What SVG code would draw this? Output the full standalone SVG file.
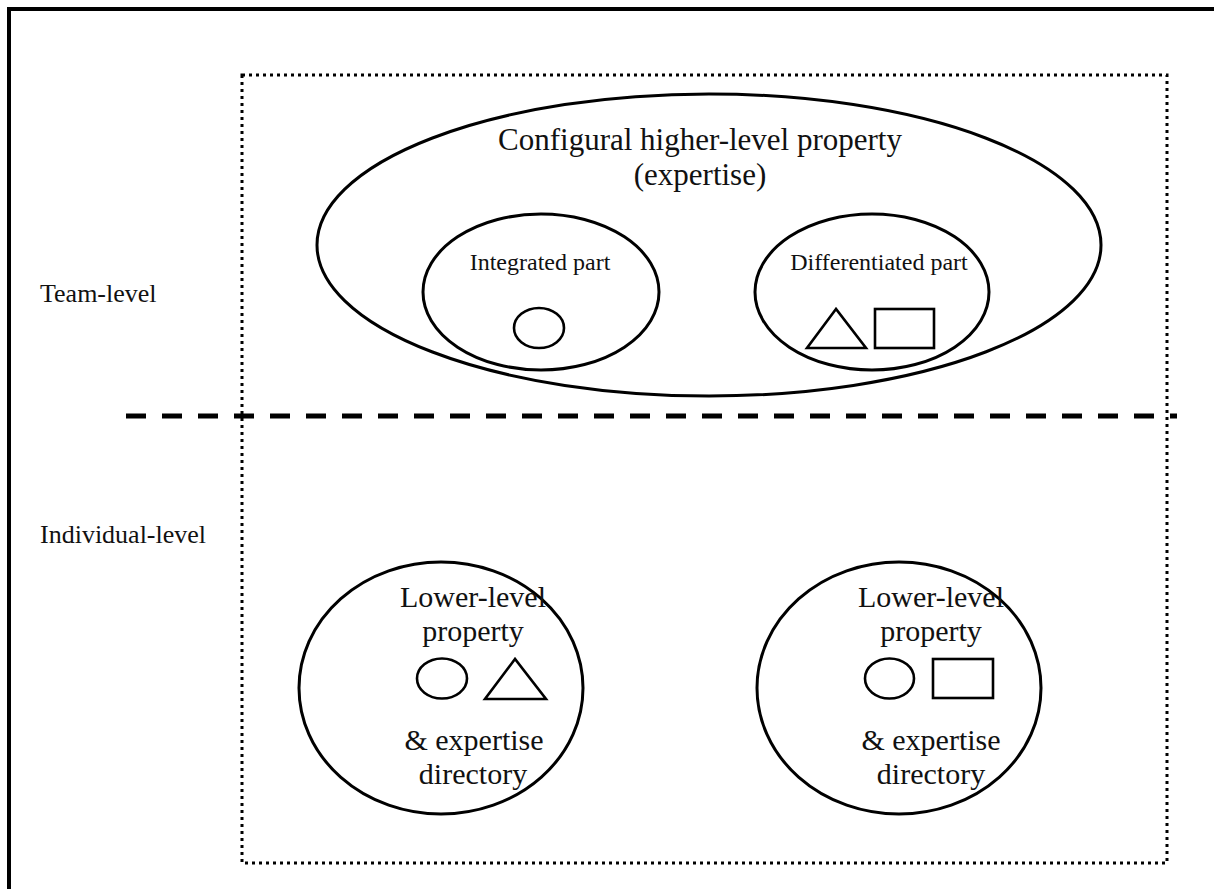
<svg xmlns="http://www.w3.org/2000/svg" width="1214" height="889" viewBox="0 0 1214 889">
  <style>
    .shape { fill: none; stroke: #000; stroke-width: 3; }
    .thin { fill: none; stroke: #000; stroke-width: 2.6; }
    .t { font-family: "Liberation Serif", "Times New Roman", serif; fill: #111; text-anchor: middle; }
    .lbl { font-family: "Liberation Serif", "Times New Roman", serif; fill: #111; }
  </style>
  <rect width="1214" height="889" fill="#fff"/>

  <!-- outer frame (right and bottom edges run off the canvas) -->
  <rect id="frame" x="9" y="9" width="1230" height="910" fill="none" stroke="#000" stroke-width="4"/>

  <!-- dotted boundary of the team -->
  <rect id="team-boundary" x="242" y="75" width="925" height="788" fill="none" stroke="#000" stroke-width="3" stroke-dasharray="3 4"/>

  <!-- level labels -->
  <g id="level-labels">
    <text class="lbl" x="40" y="302" font-size="26">Team-level</text>
    <text class="lbl" x="40" y="543" font-size="26">Individual-level</text>
  </g>

  <!-- separator between levels -->
  <g id="connectors">
    <line x1="126" y1="416" x2="1177" y2="416" stroke="#000" stroke-width="5" stroke-dasharray="20 16"/>
  </g>

  <!-- team-level configural property -->
  <g id="configural-property">
    <ellipse class="shape" cx="709" cy="245" rx="392" ry="151"/>
    <text class="t" x="700" y="150" font-size="31">Configural higher-level property</text>
    <text class="t" x="700" y="185" font-size="31">(expertise)</text>
  </g>

  <g id="integrated-part">
    <ellipse class="shape" cx="541" cy="292" rx="118" ry="78"/>
    <text class="t" x="540" y="270" font-size="24">Integrated part</text>
    <ellipse class="thin" cx="539" cy="328" rx="25" ry="20"/>
  </g>

  <g id="differentiated-part">
    <ellipse class="shape" cx="872" cy="292" rx="117" ry="78"/>
    <text class="t" x="879" y="270" font-size="24">Differentiated part</text>
    <polygon class="thin" points="836,309 807,348 866,348"/>
    <rect class="thin" x="875" y="309" width="59" height="39"/>
  </g>

  <!-- individual-level properties -->
  <g id="member-a">
    <ellipse class="shape" cx="441" cy="688" rx="142" ry="126"/>
    <text class="t" x="473" y="607" font-size="30">Lower-level</text>
    <text class="t" x="473" y="641" font-size="30">property</text>
    <ellipse class="thin" cx="442" cy="678.5" rx="25" ry="20"/>
    <polygon class="thin" points="515,659 485,699 546,699"/>
    <text class="t" x="474" y="750" font-size="30">&amp; expertise</text>
    <text class="t" x="473" y="784" font-size="30">directory</text>
  </g>

  <g id="member-b">
    <ellipse class="shape" cx="899" cy="688" rx="142" ry="126"/>
    <text class="t" x="931" y="607" font-size="30">Lower-level</text>
    <text class="t" x="931" y="641" font-size="30">property</text>
    <ellipse class="thin" cx="889.5" cy="678.5" rx="24.5" ry="20"/>
    <rect class="thin" x="933" y="659" width="60" height="39"/>
    <text class="t" x="931" y="750" font-size="30">&amp; expertise</text>
    <text class="t" x="931" y="784" font-size="30">directory</text>
  </g>
</svg>
